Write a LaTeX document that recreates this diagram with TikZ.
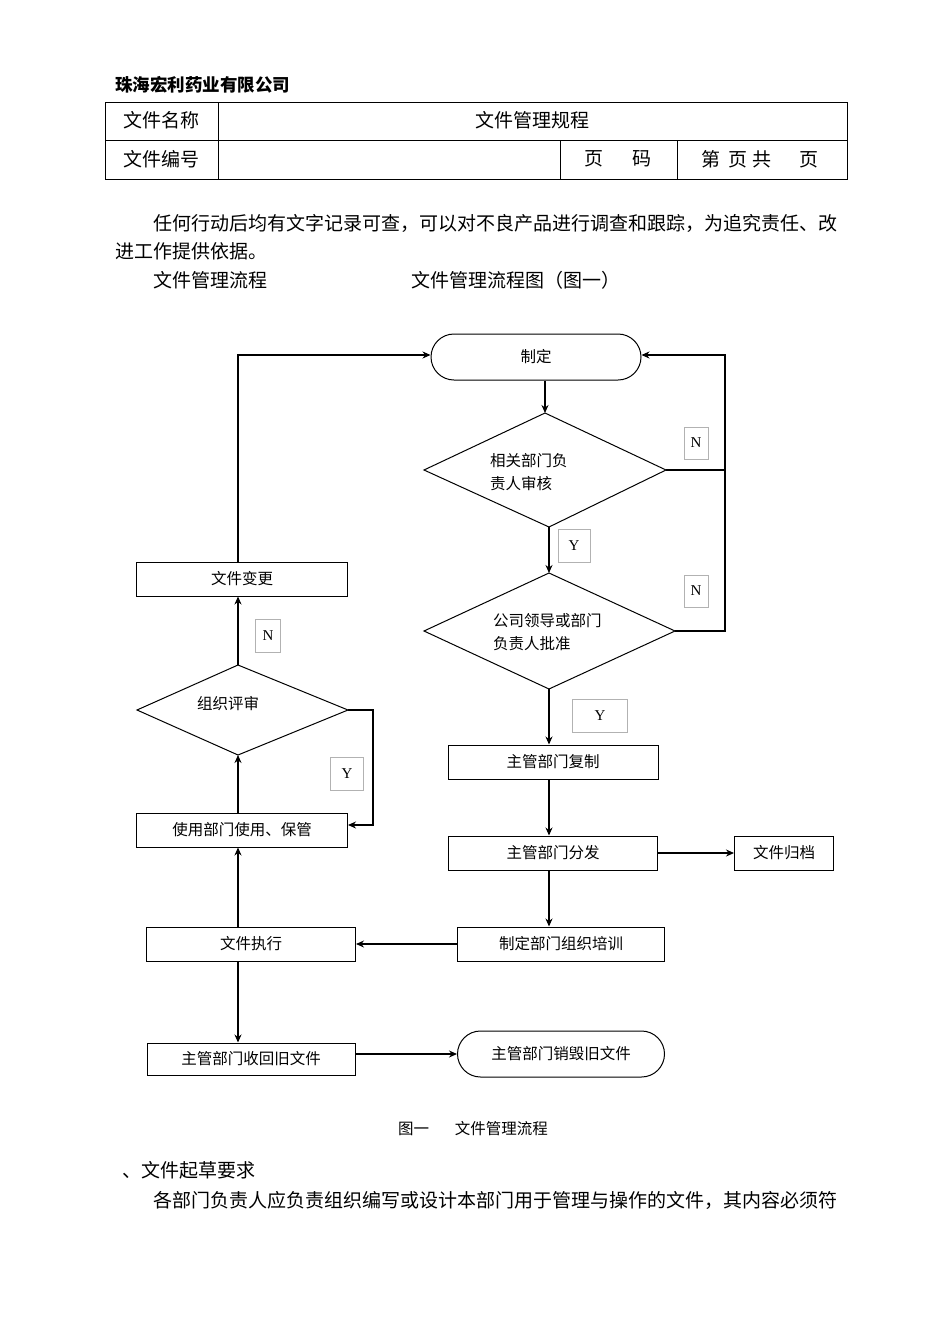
\documentclass[tikz,border=0pt]{standalone}
\usepackage{fontspec}
\setmainfont{Liberation Serif}
\newfontfamily\cjk{Noto Sans CJK SC}
\usetikzlibrary{arrows.meta}
\begin{document}
\begin{tikzpicture}[x=1pt,y=-1pt,
  txt/.style={font=\cjk\fontsize{19}{19}\selectfont,inner sep=0},
  ft/.style={font=\cjk\fontsize{15.5}{15.5}\selectfont,inner sep=0},
  box/.style={draw,line width=1pt},
  ln/.style={line width=1.3pt},
  ar/.style={line width=1.3pt,-{Stealth[length=8pt,width=7pt]}},
  yn/.style={draw=gray!60,line width=0.6pt,font=\fontsize{15}{15}\selectfont}]
\useasboundingbox (0,0) rectangle (950,1344);
% header
\node[txt,anchor=west,font=\cjk\bfseries\fontsize{17.5}{17.5}\selectfont] (company) at (115,85) {珠海宏利药业有限公司};
\draw[line width=0.8pt] (105,102) rectangle (847,179);
\draw[line width=0.8pt] (105,140) -- (847,140) (218,102) -- (218,179) (560,140) -- (560,179) (677,140) -- (677,179);
\node[txt] (c1) at (161,120) {文件名称};
\node[txt] (c2) at (532,120) {文件管理规程};
\node[txt] (c3) at (161,159) {文件编号};
\node[txt] (c4) at (618,159) {页\hspace{30pt}码};
\node[txt] (c5) at (760,159) {第\hspace{8pt}页\hspace{6pt}共\hspace{28pt}页};
\node[txt,anchor=west] (p1) at (153,223) {任何行动后均有文字记录可查，可以对不良产品进行调查和跟踪，为追究责任、改};
\node[txt,anchor=west] (p2) at (115,251) {进工作提供依据。};
\node[txt,anchor=west] (p3) at (153,280) {文件管理流程};
\node[txt,anchor=west] (p4) at (411,280) {文件管理流程图（图一）};
% flowchart nodes
\node[box,rounded corners=23pt,minimum width=210pt,minimum height=46pt,ft] (zd) at (536,357) {制定};
\draw[box] (424,470) coordinate (d1w) -- (545,413) coordinate (d1n) -- (666,470) coordinate (d1e) -- (549,527) coordinate (d1s) -- cycle;
\node[ft,align=left,anchor=west] (d1t) at (490,472) {相关部门负\\[8pt]责人审核};
\draw[box] (424,631) coordinate (d2w) -- (549,573) coordinate (d2n) -- (675,631) coordinate (d2e) -- (549,689) coordinate (d2s) -- cycle;
\node[ft,align=left,anchor=west] (d2t) at (493,632) {公司领导或部门\\[8pt]负责人批准};
\node[box,minimum width=210pt,minimum height=34pt,ft] (fz) at (553,762) {主管部门复制};
\node[box,minimum width=209pt,minimum height=34pt,ft] (ff) at (553,853) {主管部门分发};
\node[box,minimum width=99pt,minimum height=34pt,ft] (gd) at (784,853) {文件归档};
\node[box,minimum width=207pt,minimum height=34pt,ft] (px) at (561,944) {制定部门组织培训};
\node[box,minimum width=209pt,minimum height=34pt,ft] (zx) at (251,944) {文件执行};
\node[box,minimum width=208pt,minimum height=32pt,ft] (hs) at (251,1059) {主管部门收回旧文件};
\node[box,rounded corners=23pt,minimum width=207pt,minimum height=46pt,ft] (xh) at (561,1054) {主管部门销毁旧文件};
\node[box,minimum width=211pt,minimum height=34pt,ft] (sy) at (242,830) {使用部门使用、保管};
\draw[box] (137,710) coordinate (d3w) -- (238,665) coordinate (d3n) -- (348,710) coordinate (d3e) -- (238,755) coordinate (d3s) -- cycle;
\node[ft,anchor=west] (d3t) at (197,704) {组织评审};
\node[box,minimum width=211pt,minimum height=34pt,ft] (bg) at (242,579) {文件变更};
% Y/N labels
\node[yn,minimum width=24pt,minimum height=32pt] (n1) at (696,443) {N};
\node[yn,minimum width=32pt,minimum height=33pt] (y1) at (574,546) {Y};
\node[yn,minimum width=24pt,minimum height=32pt] (n2) at (696,591) {N};
\node[yn,minimum width=55pt,minimum height=33pt] (y2) at (600,716) {Y};
\node[yn,minimum width=33pt,minimum height=33pt] (y3) at (347,774) {Y};
\node[yn,minimum width=25pt,minimum height=33pt] (n3) at (268,636) {N};
% connectors
\draw[ar] (zd.south -| d1n) -- (d1n);
\draw[ar] (d1e) -- (725,470) -- (725,355) -- (zd.east |- 0,355);
\draw[ln] (d2e) -- (725,631) -- (725,470);
\draw[ar] (d1s) -- (d2n);
\draw[ar] (d2s) -- (d2s |- fz.north);
\draw[ar] (fz.south -| 549,0) -- (ff.north -| 549,0);
\draw[ar] (ff.east) -- (gd.west);
\draw[ar] (ff.south -| 549,0) -- (px.north -| 549,0);
\draw[ar] (px.west) -- (zx.east);
\draw[ar] (zx.south -| 238,0) -- (hs.north -| 238,0);
\draw[ar] (hs.east |- 0,1054) -- (xh.west);
\draw[ar] (zx.north -| 238,0) -- (sy.south -| 238,0);
\draw[ar] (sy.north -| 238,0) -- (d3s);
\draw[ar] (d3e) -- (373,710) -- (373,825) -- (sy.east |- 0,825);
\draw[ar] (d3n) -- (bg.south -| 238,0);
\draw[ar] (bg.north -| 238,0) -- (238,355) -- (zd.west |- 0,355);
% caption and text
\node[ft] (cap) at (473,1129) {图一\hspace{26pt}文件管理流程};
\node[txt,anchor=west] (s1) at (122,1170) {、文件起草要求};
\node[txt,anchor=west] (s2) at (153,1200) {各部门负责人应负责组织编写或设计本部门用于管理与操作的文件，其内容必须符};
\end{tikzpicture}
\end{document}
